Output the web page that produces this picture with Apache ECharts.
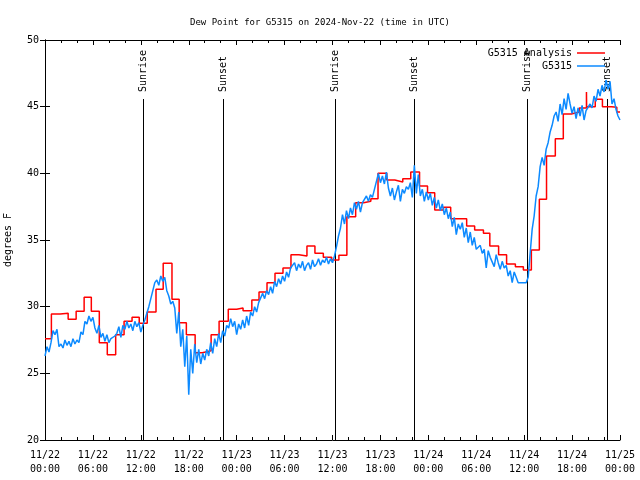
<!DOCTYPE html>
<html>
<head>
<meta charset="utf-8">
<script src="https://cdn.jsdelivr.net/npm/echarts@6/dist/echarts.min.js"></script>
<style>html,body{margin:0;padding:0;background:#fff}#c{width:640px;height:480px}</style>
</head>
<body>
<div id="c"></div>
<script>
// ---- Data ----
const titleText = 'Dew Point for G5315 on 2024-Nov-22 (time in UTC)';
const yAxisName = 'degrees F';
const xTickLabels = ['11/22\n00:00','11/22\n06:00','11/22\n12:00','11/22\n18:00',
  '11/23\n00:00','11/23\n06:00','11/23\n12:00','11/23\n18:00',
  '11/24\n00:00','11/24\n06:00','11/24\n12:00','11/24\n18:00','11/25\n00:00'];
// hours since 11/22 00:00 UTC
const sunTimes = [12.27, 22.33, 36.35, 46.25, 60.4, 70.33];
const sunNames = ['Sunrise','Sunset','Sunrise','Sunset','Sunrise','Sunset'];

// analysis (step line): time of change (h), value after change
const analysisTimes = [0,0.8,1.9,2.9,3.9,4.9,5.8,6.8,7.8,8.85,9.9,10.9,11.8,12.8,13.9,14.8,15.9,16.8,17.7,18.8,19.7,20.8,21.8,22.95,24.0,24.8,25.9,26.8,27.8,28.8,29.8,30.8,31.8,32.8,33.8,34.85,35.9,36.8,37.8,38.9,39.9,40.8,41.7,42.8,43.8,44.8,45.8,46.9,47.9,48.8,49.9,50.8,52.8,53.8,54.9,55.7,56.8,57.8,58.9,59.9,60.9,61.9,62.8,63.9,64.9,65.9,66.9,67.8,67.82,68.9,69.8,70.95,71.6,72];
const analysisVals = [27.6,29.45,29.5,29.05,29.65,30.7,29.65,27.3,26.4,27.9,28.9,29.2,28.75,29.6,31.3,33.25,30.55,28.8,27.9,26.55,26.7,27.9,28.9,29.8,29.9,29.7,30.5,31.1,31.8,32.5,32.9,33.9,33.8,34.55,34.0,33.7,33.5,33.85,36.75,37.8,37.9,38.1,40.0,39.5,39.35,39.6,40.1,39.05,38.55,37.25,37.45,36.6,36.05,35.75,35.5,34.55,33.9,33.2,33.0,32.75,34.25,38.05,41.3,42.6,44.45,44.6,44.9,46.1,45.0,45.55,45.0,44.95,44.6,44.6];

// observations every 15 minutes starting 11/22 00:00
const obsStepHours = 0.25;
const obsVals = [
26.3,27.0,26.6,27.3, 28.2,27.9,28.3,27.0, 27.2,26.9,27.5,27.1, 27.4,27.0,27.6,27.2,
27.5,27.3,28.1,27.9, 28.9,28.7,29.3,28.9, 29.2,28.4,28.0,28.6, 27.7,28.0,27.4,27.9,
27.3,27.6,27.5,27.8, 28.0,28.5,27.7,28.6, 28.3,28.9,28.4,28.7, 28.2,28.9,28.5,28.8,
28.1,28.6,29.0,29.5, 30.0,30.6,31.2,31.8, 32.0,31.6,32.3,31.9, 32.2,31.2,30.8,30.2,
30.4,29.9,28.0,29.6, 27.0,28.3,25.5,27.8, 23.4,26.8,25.0,27.2, 25.8,26.8,25.7,26.5,
26.0,26.8,26.3,27.3, 26.5,27.6,27.0,28.0, 27.3,28.2,27.8,28.6, 28.4,29.1,28.5,28.9,
27.9,28.7,28.3,29.0, 28.4,29.3,28.6,29.6, 29.3,30.0,29.6,30.3, 30.4,31.0,30.6,31.2,
30.9,31.5,31.0,31.9, 31.5,32.1,31.7,32.3, 31.9,32.6,32.2,32.9, 32.8,33.3,32.7,33.2,
32.9,33.4,32.7,33.1, 33.3,32.8,33.5,33.0, 33.2,33.6,33.1,33.5, 33.3,33.7,33.2,33.6,
33.3,33.8,34.5,35.3, 35.9,36.9,36.2,37.2, 36.6,37.4,36.9,37.8, 37.3,37.9,37.1,37.8,
37.7,38.3,37.9,38.4, 38.2,38.8,39.4,40.0, 39.3,39.8,39.2,40.1, 38.9,38.3,38.9,38.0,
38.6,39.1,37.9,38.8, 38.5,39.0,38.8,39.3, 38.2,40.6,38.5,39.9, 38.3,38.8,37.9,38.6,
38.0,38.5,37.6,38.2, 37.4,38.0,37.2,37.7, 36.9,37.4,36.6,37.1, 36.0,36.7,35.4,36.2,
35.8,36.3,35.2,35.9, 34.8,35.6,34.6,35.2, 34.3,34.3,34.6,34.0, 34.3,32.9,34.2,33.7,
33.6,33.0,33.9,33.3, 32.8,33.4,32.9,33.1, 32.3,32.7,31.8,32.6, 32.2,31.8,31.8,31.8,
31.8,31.8,32.2,34.0, 35.8,36.8,38.3,39.0, 40.5,41.2,40.6,41.8, 42.3,43.1,43.6,44.3,
44.6,43.9,45.2,44.4, 45.6,44.8,46.0,45.2, 44.5,45.0,44.1,44.9, 44.3,45.1,44.0,44.7,
44.6,45.2,44.9,45.8, 45.4,46.3,45.8,46.6, 46.1,47.0,46.3,46.9, 45.2,45.6,44.8,44.3,
44.0];

// ---- Chart ----
const FONT = 'DejaVu Sans Mono';
const chart = echarts.init(document.getElementById('c'), null, {renderer: 'canvas'});
const analysisData = analysisTimes.map((t, i) => [t, analysisVals[i]]);
const obsData = obsVals.map((v, i) => [i * obsStepHours, v]);
const sunData = sunTimes.map((t, i) => [t, sunNames[i]]);

const axisCommon = {
  axisLine: {show: true, lineStyle: {color: '#000', width: 1}},
  splitLine: {show: false}
};

chart.setOption({
  animation: false,
  backgroundColor: '#fff',
  textStyle: {fontFamily: FONT, color: '#000'},
  title: {
    text: titleText, left: 'center', top: 13,
    textStyle: {fontFamily: FONT, fontSize: 9, fontWeight: 'normal', color: '#000'}
  },
  legend: {
    data: ['G5315 Analysis', 'G5315'],
    orient: 'vertical', right: 30, top: 43, align: 'right',
    icon: 'rect', itemWidth: 28, itemHeight: 1.5, itemGap: 3,
    textStyle: {fontFamily: FONT, fontSize: 10, color: '#000', padding: [0, 0, 0, 0]}
  },
  grid: {left: 45, right: 20, top: 40, bottom: 40, containLabel: false, outerBoundsMode: 'none'},
  xAxis: [{
    type: 'value', min: 0, max: 72, interval: 6, position: 'bottom',
    ...axisCommon,
    axisTick: {inside: true, length: 5, lineStyle: {color: '#000'}},
    minorTick: {show: true, splitNumber: 3, length: 3, lineStyle: {color: '#000'}},
    axisLabel: {
      color: '#000', fontFamily: FONT, fontSize: 10, margin: 8, lineHeight: 14,
      formatter: v => xTickLabels[Math.round(v / 6)]
    }
  }, {
    type: 'value', min: 0, max: 72, interval: 6, position: 'top',
    ...axisCommon,
    axisTick: {inside: true, length: 5, lineStyle: {color: '#000'}},
    minorTick: {show: true, splitNumber: 3, length: 3, lineStyle: {color: '#000'}},
    axisLabel: {show: false}
  }],
  yAxis: [{
    type: 'value', min: 20, max: 50, interval: 5, position: 'left',
    name: yAxisName, nameLocation: 'middle', nameGap: 32, nameRotate: 90,
    nameTextStyle: {fontFamily: FONT, fontSize: 10, color: '#000'},
    ...axisCommon,
    axisTick: {inside: true, length: 5, lineStyle: {color: '#000'}},
    axisLabel: {color: '#000', fontFamily: FONT, fontSize: 10, margin: 6}
  }, {
    type: 'value', min: 20, max: 50, interval: 5, position: 'right',
    ...axisCommon,
    axisTick: {inside: true, length: 5, lineStyle: {color: '#000'}},
    axisLabel: {show: false}
  }],
  series: [{
    name: 'G5315 Analysis', type: 'line', step: 'end', data: analysisData,
    showSymbol: false, color: '#ff0000',
    lineStyle: {color: '#ff0000', width: 1.5}, z: 3
  }, {
    name: 'G5315', type: 'line', data: obsData,
    showSymbol: false, color: '#0c8aff',
    lineStyle: {color: '#0c8aff', width: 1.5}, z: 4
  }, {
    name: 'sun', type: 'custom', data: sunData, z: 2,
    renderItem: function (params, api) {
      const t = api.value(0);
      const bottom = api.coord([t, 20]);
      const top = api.coord([t, 50]);
      const x = Math.round(bottom[0]) + 0.5;
      return {
        type: 'group',
        children: [{
          type: 'line',
          shape: {x1: x, y1: bottom[1], x2: x, y2: top[1] + 59},
          style: {stroke: '#000', lineWidth: 1}
        }, {
          type: 'text', x: x, y: top[1] + 52, rotation: Math.PI / 2,
          style: {text: sunNames[params.dataIndex], fill: '#000', font: '10px ' + FONT,
                  align: 'left', verticalAlign: 'middle'}
        }]
      };
    },
    encode: {x: 0, y: -1}
  }]
});
</script>
</body>
</html>
